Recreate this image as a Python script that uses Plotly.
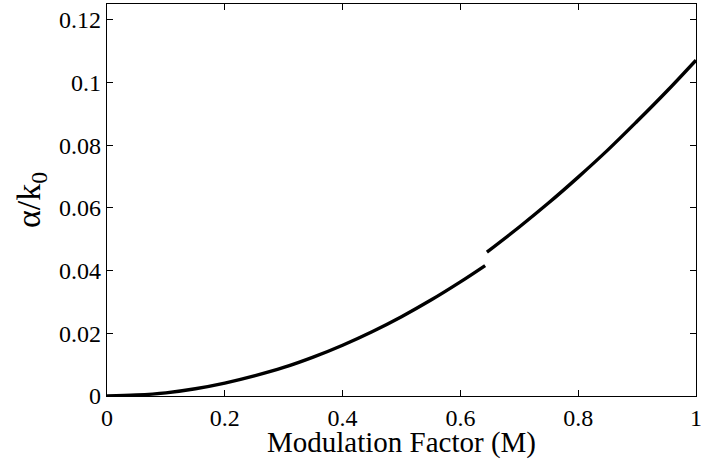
import plotly.graph_objects as go

# Branch 1 (below the gap)
m1 = [0.0, 0.05, 0.1, 0.15, 0.2, 0.25, 0.3, 0.35, 0.4, 0.45, 0.5, 0.55, 0.6, 0.642]
a1 = [0.0, 0.0003, 0.001, 0.0023, 0.0041, 0.0064, 0.0091, 0.0124, 0.0162, 0.0205, 0.0253, 0.0306, 0.0364, 0.0416]

# Branch 2 (above the gap)
m2 = [0.645, 0.7, 0.75, 0.8, 0.85, 0.9, 0.95, 1.0]
a2 = [0.0459, 0.0539, 0.0616, 0.0698, 0.0784, 0.0876, 0.0971, 0.1071]

x_ticks = [0, 0.2, 0.4, 0.6, 0.8, 1]
x_labels = ["0", "0.2", "0.4", "0.6", "0.8", "1"]
y_ticks = [0, 0.02, 0.04, 0.06, 0.08, 0.1, 0.12]
y_labels = ["0", "0.02", "0.04", "0.06", "0.08", "0.1", "0.12"]

x_title = "Modulation Factor (M)"
y_title = "α/k<sub>0</sub>"

FONT = "Liberation Serif"

fig = go.Figure()
for xs, ys in [(m1, a1), (m2, a2)]:
    fig.add_trace(go.Scatter(x=xs, y=ys, mode="lines",
                             line=dict(color="black", width=3.4, shape="spline"),
                             showlegend=False, hoverinfo="skip"))

axis_common = dict(showline=True, linecolor="black", linewidth=1.3, mirror="allticks",
                   ticks="inside", ticklen=6, tickwidth=1, tickcolor="black",
                   showgrid=False, zeroline=False, ticklabeloverflow="allow",
                   automargin=False,
                   tickfont=dict(family=FONT, size=24, color="black"))

fig.update_xaxes(range=[0, 1], tickvals=x_ticks, ticktext=x_labels, **axis_common)
fig.update_yaxes(range=[0, 0.125], tickvals=y_ticks, ticktext=y_labels,
                 title=dict(text=y_title, font=dict(family=FONT, size=34, color="black"), standoff=8),
                 **axis_common)

fig.add_annotation(text=x_title, xref="paper", yref="paper", x=0.5, y=0,
                   xanchor="center", yanchor="top", yshift=-28, showarrow=False,
                   font=dict(family=FONT, size=29, color="black"))

fig.update_layout(width=701, height=461, margin=dict(l=107, r=5, t=4, b=65),
                  plot_bgcolor="white", paper_bgcolor="white",
                  font=dict(family=FONT, color="black"))

fig.write_html("out.html")
